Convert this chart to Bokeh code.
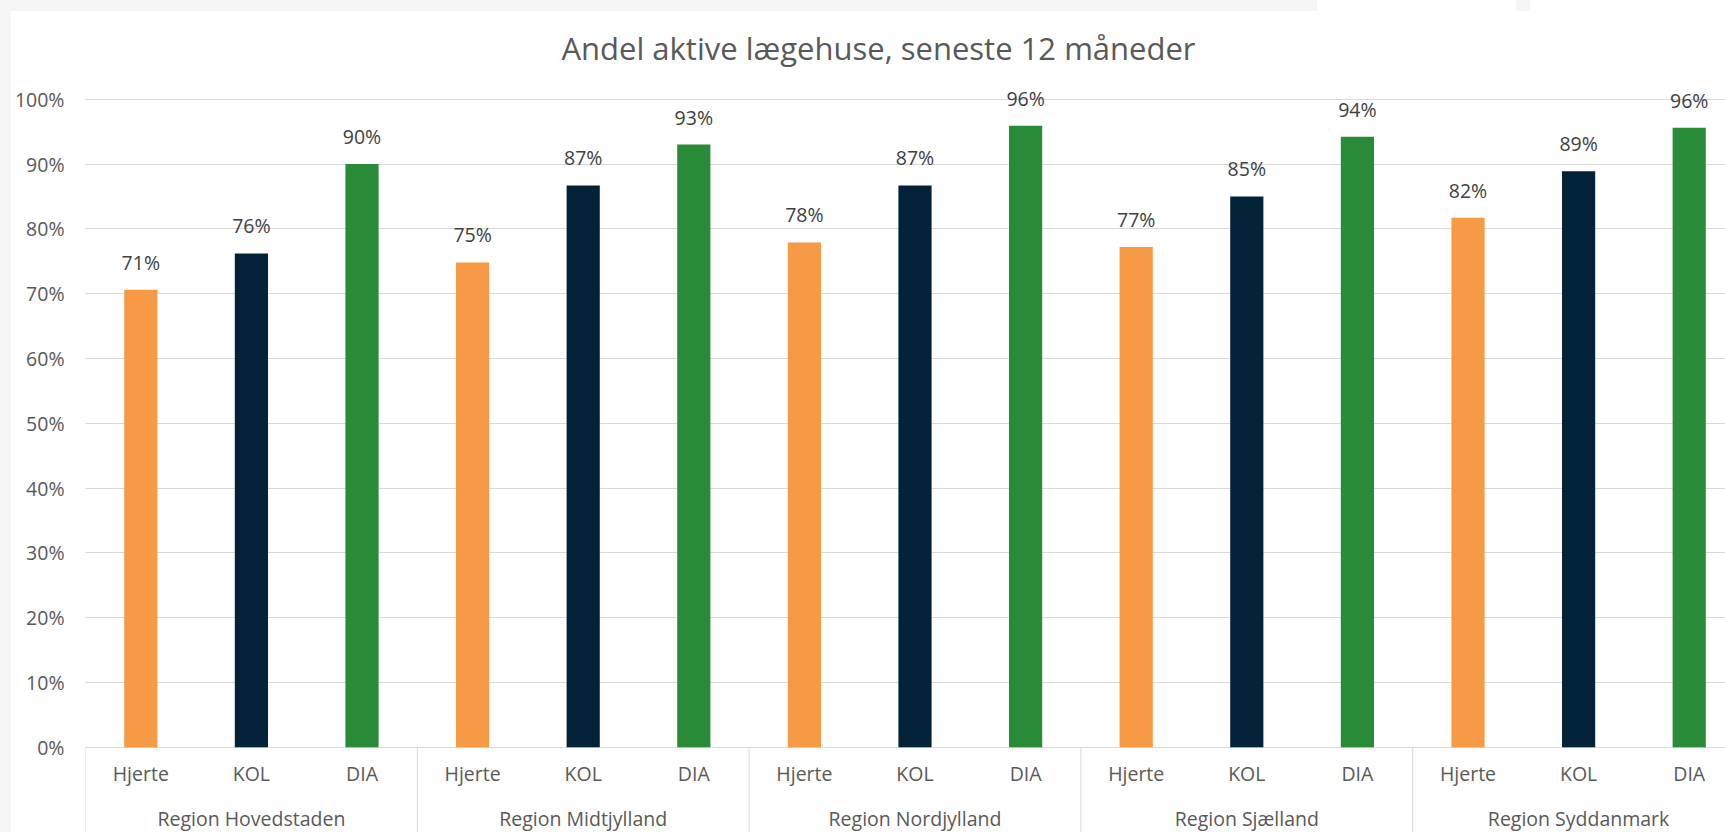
from bokeh.plotting import figure
from bokeh.layouts import column, row
from bokeh.models import (Range1d, FixedTicker, LabelSet, Label, Spacer,
                          ColumnDataSource, NumeralTickFormatter)
from bokeh.core.properties import value
from bokeh.embed import file_html
from bokeh.resources import INLINE

# ---------------- data ----------------
title = "Andel aktive lægehuse, seneste 12 måneder"
regions = ["Region Hovedstaden", "Region Midtjylland", "Region Nordjylland",
           "Region Sjælland", "Region Syddanmark"]
series = ["Hjerte", "KOL", "DIA"]
hjerte = [0.706, 0.748, 0.779, 0.772, 0.817]
kol = [0.762, 0.867, 0.867, 0.850, 0.889]
dia = [0.900, 0.930, 0.959, 0.942, 0.956]
y_ticks = [0.0, 0.1, 0.2, 0.3, 0.4, 0.5, 0.6, 0.7, 0.8, 0.9, 1.0]

# ---------------- layout / style ----------------
colors = ["#F79A46", "#022337", "#298A38"]
FONT = "Open Sans"
TXT = "#595959"
GRID = "#D9D9D9"
BG = "#F5F5F5"              # grey page strip around the chart
PAGE_W, PAGE_H = 1725, 832
PAD = 11                    # grey strip thickness
W, H = PAGE_W - PAD, PAGE_H - PAD
LEFT = 85 - PAD             # frame left in figure px
TOP = 20 - PAD              # frame top in figure px
Y0_PX = 746.7 - PAD         # pixel row of 0 %
PPU = 648.0                 # pixels per 100 %
CAT_W = 110.6               # pixels per category

n_s = len(series)
x_end = -0.5 + (W - LEFT) / CAT_W
y_start = -(H - Y0_PX) / PPU
y_end = (Y0_PX - TOP) / PPU

p = figure(width=W, height=H,
           x_range=Range1d(-0.5, x_end), y_range=Range1d(y_start, y_end),
           output_backend="svg", toolbar_location=None, x_axis_location=None,
           min_border_left=LEFT, min_border_right=0, min_border_top=TOP,
           min_border_bottom=0)
p.outline_line_color = None
p.background_fill_color = "white"
p.border_fill_color = "white"

# y axis
p.yaxis.ticker = FixedTicker(ticks=y_ticks)
p.yaxis.formatter = NumeralTickFormatter(format="0%")
p.yaxis.axis_line_color = None
p.yaxis.major_tick_line_color = None
p.yaxis.minor_tick_line_color = None
p.yaxis.major_tick_out = 0
p.yaxis.major_tick_in = 0
p.yaxis.minor_tick_out = 0
p.yaxis.minor_tick_in = 0
p.yaxis.major_label_standoff = 21
p.yaxis.major_label_text_font = FONT
p.yaxis.major_label_text_font_size = "19.5px"
p.yaxis.major_label_text_color = TXT
p.ygrid.ticker = FixedTicker(ticks=y_ticks)
p.ygrid.grid_line_color = GRID
p.ygrid.grid_line_width = 1
p.xgrid.visible = False

# bars + data labels
for j, (vals, col) in enumerate(zip([hjerte, kol, dia], colors)):
    xs = [i * n_s + j for i in range(len(regions))]
    src = ColumnDataSource(dict(x=xs, top=vals,
                                label=[f"{round(v * 100)}%" for v in vals]))
    p.vbar(x="x", top="top", width=0.3, source=src,
           fill_color=col, line_color=None)
    p.add_layout(LabelSet(x="x", y="top", text="label", source=src,
                          y_offset=20, text_align="center",
                          text_baseline="alphabetic",
                          text_font=value(FONT), text_font_size="19.5px",
                          text_color="#404040"))

# multi-level category axis drawn below the 0 % line
cat_x = list(range(len(regions) * n_s))
cat_txt = [series[t % n_s] for t in cat_x]
p.text(x=cat_x, y=[-26 / PPU] * len(cat_x), text=cat_txt,
       text_align="center", text_baseline="alphabetic",
       text_font=value(FONT), text_font_size=value("19.5px"), text_color=TXT)

grp_x = [i * n_s + (n_s - 1) // 2 for i in range(len(regions))]
p.text(x=grp_x, y=[-71 / PPU] * len(grp_x), text=regions,
       text_align="center", text_baseline="alphabetic",
       text_font=value(FONT), text_font_size=value("19.5px"), text_color=TXT)

sep_x = [i * n_s - 0.5 for i in range(len(regions))]
p.segment(x0=sep_x, y0=[0] * len(sep_x), x1=sep_x, y1=[y_start] * len(sep_x),
          line_color=GRID, line_width=1)

# title
p.add_layout(Label(x=878 - 85, y=PAGE_H - 47.5, x_units="screen", y_units="screen",
                   text=title, text_align="center", text_baseline="alphabetic",
                   text_font=FONT, text_font_size="31px", text_color=TXT))

# grey page strips around the chart area
top_strip = row(
    Spacer(width=1317, height=PAD, styles={"background-color": BG}),
    Spacer(width=199, height=PAD, styles={"background-color": "white"}),
    Spacer(width=14, height=PAD, styles={"background-color": BG}),
    Spacer(width=PAGE_W - 1530, height=PAD, styles={"background-color": "white"}),
)
body = row(Spacer(width=PAD, height=H, styles={"background-color": BG}), p)
layout = column(top_strip, body)

open("out.html", "w").write(file_html(layout, INLINE))
